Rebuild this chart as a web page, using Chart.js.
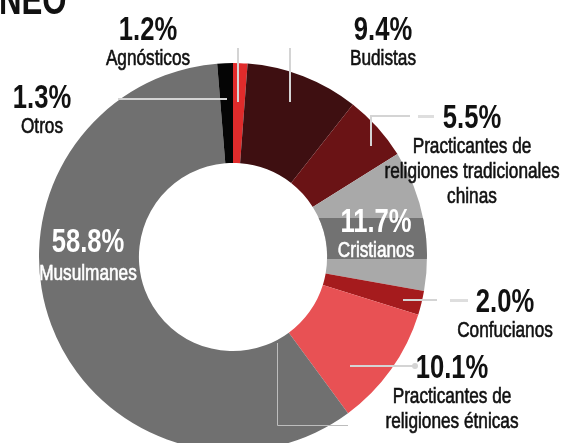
<!DOCTYPE html>
<html>
<head>
<meta charset="utf-8">
<script src="https://cdn.jsdelivr.net/npm/chart.js@4/dist/chart.umd.min.js"></script>
<style>
  html, body { margin: 0; padding: 0; background: #ffffff; overflow: hidden; width: 569px; height: 443px; }
  #wrap { position: absolute; left: 0; top: 0; width: 569px; height: 514px; }
  canvas { display: block; }
</style>
</head>
<body>
<div id="wrap"><canvas id="c" width="569" height="514"></canvas></div>
<script>
// ---- data ----
const categories = [
  'Agnósticos',
  'Budistas',
  'Practicantes de religiones tradicionales chinas',
  'Cristianos',
  'Confucianos',
  'Practicantes de religiones étnicas',
  'Musulmanes',
  'Otros'
];
const shares = [1.2, 9.4, 5.5, 11.7, 2.0, 10.1, 58.8, 1.3];
const labelLines = [
  ['Agnósticos'],
  ['Budistas'],
  ['Practicantes de', 'religiones tradicionales', 'chinas'],
  ['Cristianos'],
  ['Confucianos'],
  ['Practicantes de', 'religiones étnicas'],
  ['Musulmanes'],
  ['Otros']
];
const colors = ['#e02b2b', '#3e0f11', '#6a1315', '#a9a9a9', '#a51b1d', '#e85154', '#707070', '#050505'];

// ---- label placement (layout only) ----
// [centerX, baseline of percentage, text colour]
const labelPos = [
  [148, 40, '#111'],
  [383, 40, '#111'],
  [472, 128, '#111'],
  [376, 232, '#fff'],
  [505, 312, '#111'],
  [452, 378, '#111'],
  [88, 252, '#fff'],
  [42, 108, '#111']
];

const FONT = "'Liberation Sans', Arial, sans-serif";

function condensedText(ctx, txt, x, y, sx, sy, thicken) {
  ctx.save();
  ctx.translate(x, y);
  ctx.scale(sx, sy);
  ctx.fillText(txt, 0, 0);
  if (thicken) {
    ctx.lineWidth = thicken;
    ctx.strokeStyle = ctx.fillStyle;
    ctx.strokeText(txt, 0, 0);
  }
  ctx.restore();
}

const decorPlugin = {
  id: 'decor',
  afterDatasetsDraw(chart) {
    const ctx = chart.ctx;
    const meta = chart.getDatasetMeta(0);
    // darker band behind the Cristianos label, clipped to its slice
    const a = meta.data[3];
    ctx.save();
    ctx.beginPath();
    ctx.arc(a.x, a.y, a.outerRadius, a.startAngle, a.endAngle);
    ctx.arc(a.x, a.y, a.innerRadius, a.endAngle, a.startAngle, true);
    ctx.closePath();
    ctx.clip();
    ctx.fillStyle = '#727272';
    ctx.fillRect(a.x, 218, a.outerRadius + 5, 41);
    ctx.restore();

    // leader lines
    ctx.save();
    ctx.strokeStyle = '#d4d4d4';
    ctx.lineWidth = 2;
    const seg = (pts) => { ctx.beginPath(); ctx.moveTo(pts[0][0], pts[0][1]); for (let i = 1; i < pts.length; i++) ctx.lineTo(pts[i][0], pts[i][1]); ctx.stroke(); };
    seg([[238, 48], [238, 102]]);
    seg([[290, 48], [290, 102]]);
    seg([[118, 99], [227, 99]]);
    seg([[371, 146], [371, 116], [410, 116]]);
    seg([[403, 300], [437, 300]]);
    seg([[350, 366], [414, 366]]);
    ctx.fillStyle = '#d4d4d4';
    ctx.beginPath(); ctx.arc(415, 366, 3, 0, Math.PI * 2); ctx.fill();
    ctx.fillStyle = 'rgba(200,200,200,0.6)';
    ctx.fillRect(418, 115, 16, 3);
    ctx.fillRect(450, 299, 18, 3);
    ctx.lineWidth = 1;
    ctx.strokeStyle = '#bdbdbd';
    seg([[277.5, 343], [277.5, 425.5], [348, 425.5]]);
    ctx.restore();

    // labels
    ctx.save();
    ctx.textAlign = 'center';
    ctx.textBaseline = 'alphabetic';
    shares.forEach((v, i) => {
      const [cx, by, col] = labelPos[i];
      ctx.fillStyle = col;
      ctx.font = 'bold 32px ' + FONT;
      condensedText(ctx, v.toFixed(1) + '%', cx, by, 0.8, 1.05, 0);
      ctx.font = '21px ' + FONT;
      labelLines[i].forEach((ln, j) => {
        condensedText(ctx, ln, cx, by + 25 * (j + 1) + (i === 6 ? 3 : 0), 0.82, 1.06, 0.6);
      });
    });
    // clipped title fragment at the top-left
    ctx.fillStyle = '#111';
    ctx.textAlign = 'left';
    ctx.font = 'bold 39px ' + FONT;
    condensedText(ctx, 'NEO', -1, 14, 0.8, 1.1, 0);
    ctx.restore();
  }
};

new Chart(document.getElementById('c'), {
  type: 'doughnut',
  data: {
    labels: categories,
    datasets: [{
      data: shares,
      backgroundColor: colors,
      borderWidth: 0,
      hoverOffset: 0
    }]
  },
  options: {
    responsive: false,
    animation: false,
    devicePixelRatio: 1,
    cutout: '48.5%',
    rotation: 0,
    layout: { padding: { left: 39, top: 63, right: 142, bottom: 63 } },
    plugins: {
      legend: { display: false },
      tooltip: { enabled: false },
      title: { display: false }
    }
  },
  plugins: [decorPlugin]
});
</script>
</body>
</html>
